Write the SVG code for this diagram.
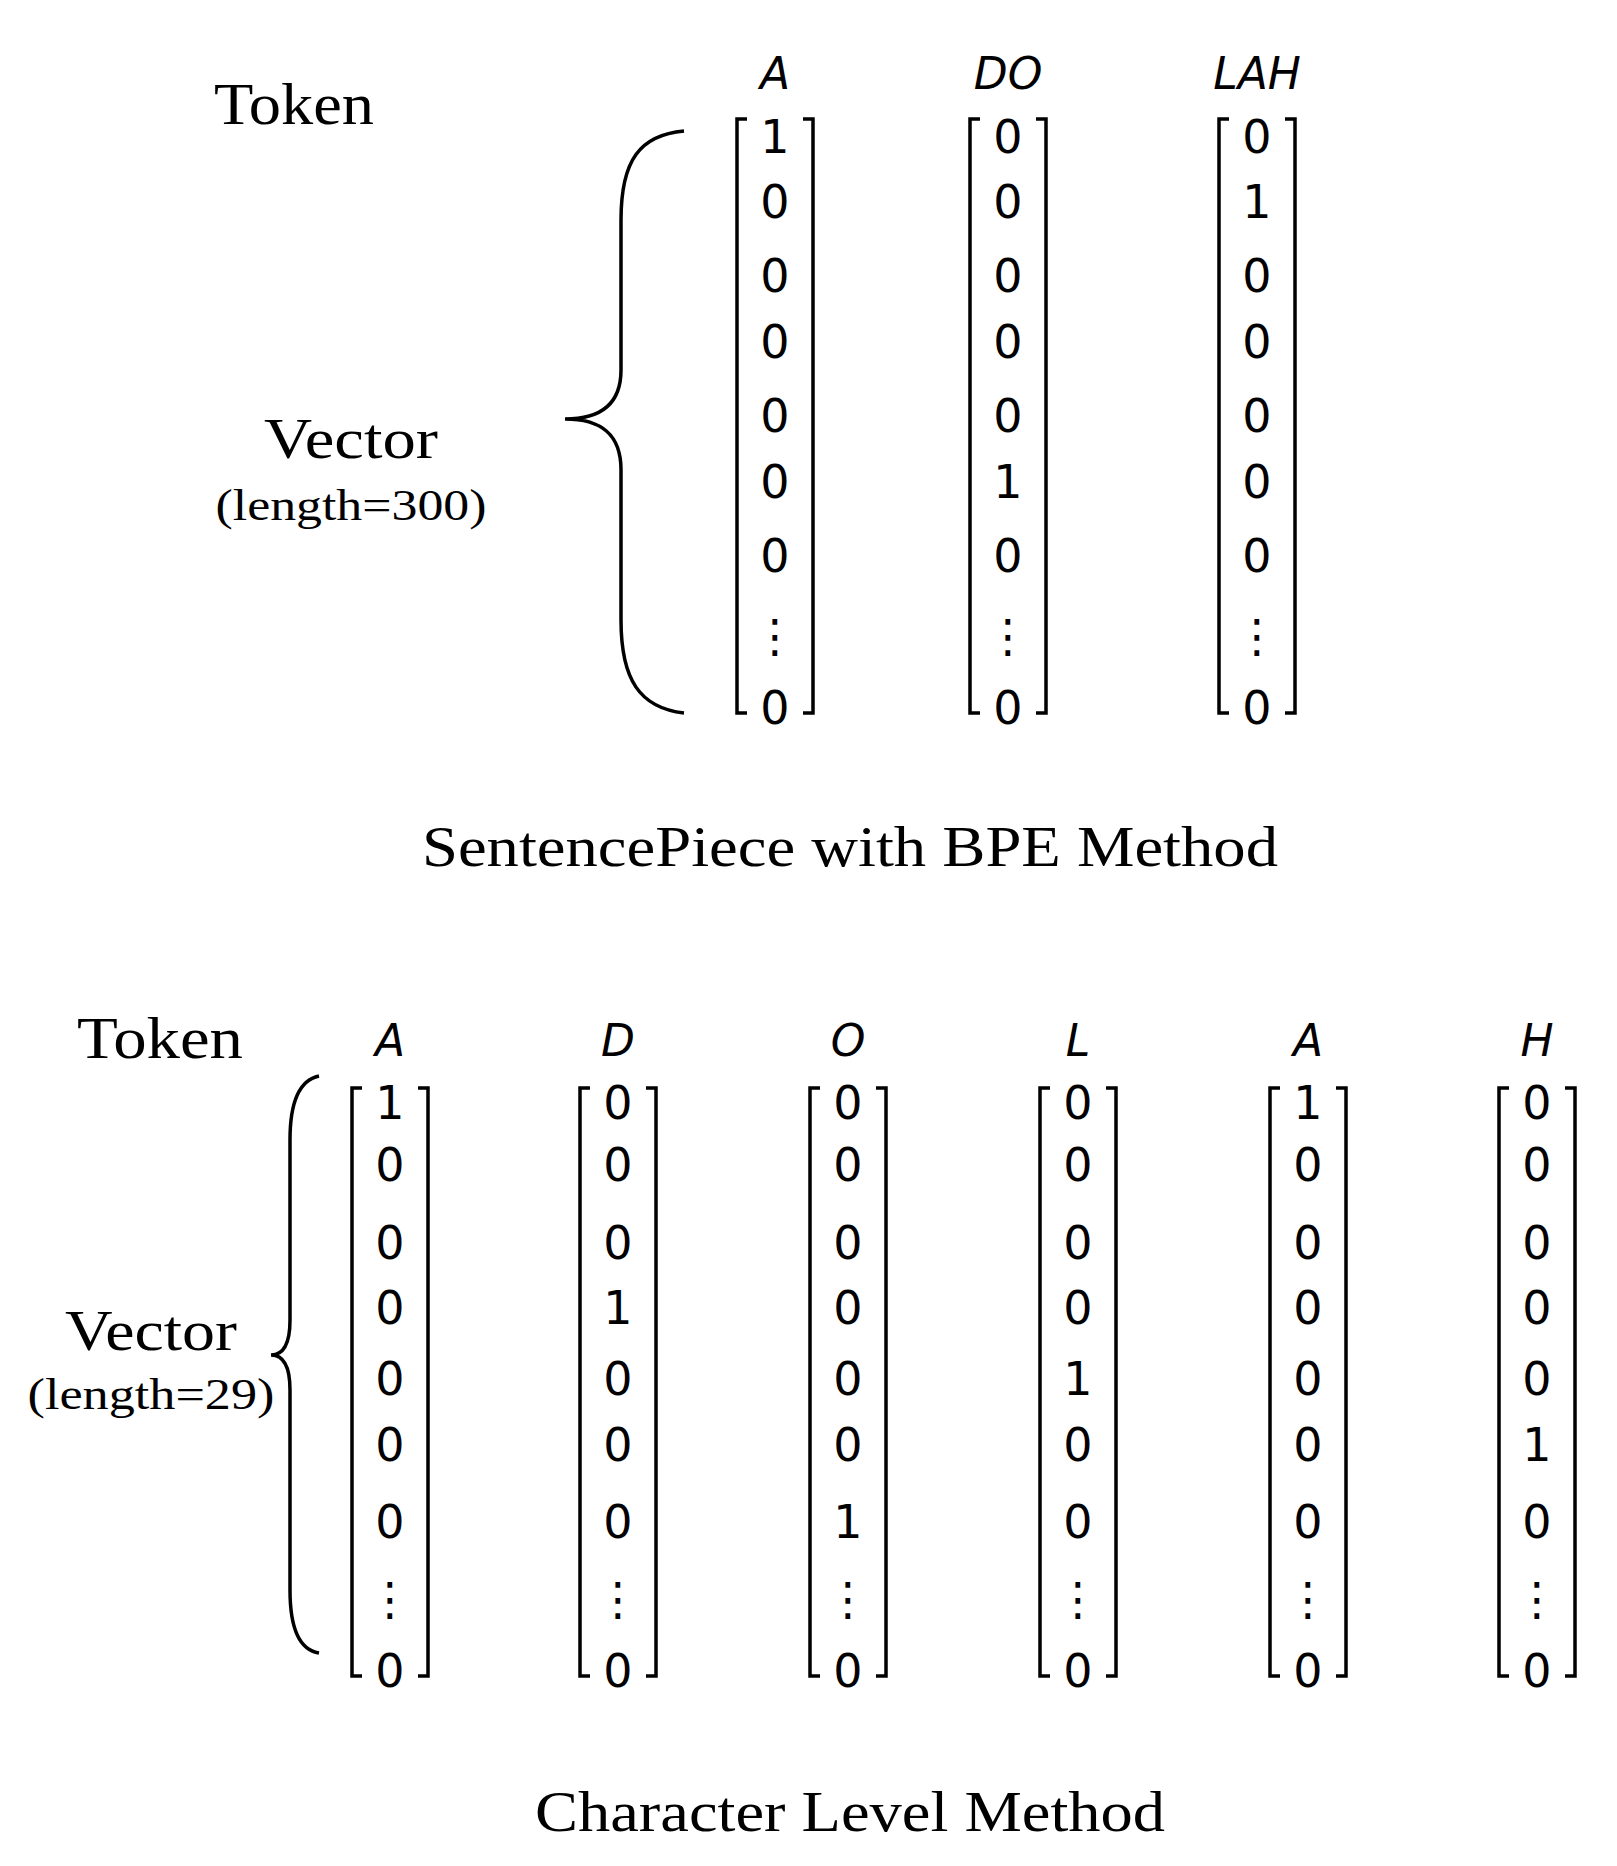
<svg xmlns="http://www.w3.org/2000/svg" width="1617" height="1866" viewBox="0 0 1617 1866">
<style>
.t{font-family:"Liberation Serif","Times New Roman",serif;fill:#000}
.d{font-family:"DejaVu Sans",sans-serif;font-size:46px;text-anchor:middle;fill:#000}
.l{font-family:"DejaVu Sans",sans-serif;font-style:italic;font-size:44px;text-anchor:middle;fill:#000}
.b{fill:none;stroke:#000;stroke-width:3.5}
</style>
<rect width="1617" height="1866" fill="#fff"/>
<defs>
<g id="v1"><path class="b" d="M-28,119 H-38 V713 H-28 M28,119 H38 V713 H28"/></g>
<g id="v2"><path class="b" d="M-28,1088 H-38 V1676 H-28 M28,1088 H38 V1676 H28"/></g>
</defs>
<g id="top">
<text class="t" x="214" y="124" font-size="60" textLength="160" lengthAdjust="spacingAndGlyphs">Token</text>
<text class="t" x="351" y="458" font-size="56" text-anchor="middle" textLength="174" lengthAdjust="spacingAndGlyphs">Vector</text>
<text class="t" x="351" y="520" font-size="44" text-anchor="middle" textLength="271" lengthAdjust="spacingAndGlyphs">(length=300)</text>
<path class="b" d="M684,131 C640,135 621,160 621,220 V370 C621,405 600,419 565,419 C600,419 621,433 621,470 V620 C621,680 640,708 684,713"/>
<g id="colA" transform="translate(775,0)"><use href="#v1"/><text class="l" y="89">A</text>
<g class="d"><text y="153">1</text><text y="218">0</text><text y="292">0</text><text y="358">0</text><text y="432">0</text><text y="498">0</text><text y="572">0</text><text y="652">⋮</text><text y="724">0</text></g></g>
<g id="colDO" transform="translate(1008,0)"><use href="#v1"/><text class="l" y="89">DO</text>
<g class="d"><text y="153">0</text><text y="218">0</text><text y="292">0</text><text y="358">0</text><text y="432">0</text><text y="498">1</text><text y="572">0</text><text y="652">⋮</text><text y="724">0</text></g></g>
<g id="colLAH" transform="translate(1257,0)"><use href="#v1"/><text class="l" y="89">LAH</text>
<g class="d"><text y="153">0</text><text y="218">1</text><text y="292">0</text><text y="358">0</text><text y="432">0</text><text y="498">0</text><text y="572">0</text><text y="652">⋮</text><text y="724">0</text></g></g>
<text class="t" x="850" y="866" font-size="56" text-anchor="middle" textLength="856" lengthAdjust="spacingAndGlyphs">SentencePiece with BPE Method</text>
</g>
<g id="bottom">
<text class="t" x="77" y="1058" font-size="60" textLength="166" lengthAdjust="spacingAndGlyphs">Token</text>
<text class="t" x="151" y="1350" font-size="56" text-anchor="middle" textLength="172" lengthAdjust="spacingAndGlyphs">Vector</text>
<text class="t" x="151" y="1409" font-size="44" text-anchor="middle" textLength="247" lengthAdjust="spacingAndGlyphs">(length=29)</text>
<path class="b" d="M319,1076 C300,1080 290,1100 290,1140 V1320 C290,1345 283,1355 271,1355 C283,1355 290,1365 290,1390 V1590 C290,1630 300,1650 319,1653"/>
<g id="c1" transform="translate(390,0)"><use href="#v2"/><text class="l" y="1056">A</text>
<g class="d"><text y="1119">1</text><text y="1181">0</text><text y="1259">0</text><text y="1324">0</text><text y="1395">0</text><text y="1461">0</text><text y="1538">0</text><text y="1615">⋮</text><text y="1687">0</text></g></g>
<g id="c2" transform="translate(618,0)"><use href="#v2"/><text class="l" y="1056">D</text>
<g class="d"><text y="1119">0</text><text y="1181">0</text><text y="1259">0</text><text y="1324">1</text><text y="1395">0</text><text y="1461">0</text><text y="1538">0</text><text y="1615">⋮</text><text y="1687">0</text></g></g>
<g id="c3" transform="translate(848,0)"><use href="#v2"/><text class="l" y="1056">O</text>
<g class="d"><text y="1119">0</text><text y="1181">0</text><text y="1259">0</text><text y="1324">0</text><text y="1395">0</text><text y="1461">0</text><text y="1538">1</text><text y="1615">⋮</text><text y="1687">0</text></g></g>
<g id="c4" transform="translate(1078,0)"><use href="#v2"/><text class="l" y="1056">L</text>
<g class="d"><text y="1119">0</text><text y="1181">0</text><text y="1259">0</text><text y="1324">0</text><text y="1395">1</text><text y="1461">0</text><text y="1538">0</text><text y="1615">⋮</text><text y="1687">0</text></g></g>
<g id="c5" transform="translate(1308,0)"><use href="#v2"/><text class="l" y="1056">A</text>
<g class="d"><text y="1119">1</text><text y="1181">0</text><text y="1259">0</text><text y="1324">0</text><text y="1395">0</text><text y="1461">0</text><text y="1538">0</text><text y="1615">⋮</text><text y="1687">0</text></g></g>
<g id="c6" transform="translate(1537,0)"><use href="#v2"/><text class="l" y="1056">H</text>
<g class="d"><text y="1119">0</text><text y="1181">0</text><text y="1259">0</text><text y="1324">0</text><text y="1395">0</text><text y="1461">1</text><text y="1538">0</text><text y="1615">⋮</text><text y="1687">0</text></g></g>
<text class="t" x="850" y="1831" font-size="56" text-anchor="middle" textLength="630" lengthAdjust="spacingAndGlyphs">Character Level Method</text>
</g>
</svg>
